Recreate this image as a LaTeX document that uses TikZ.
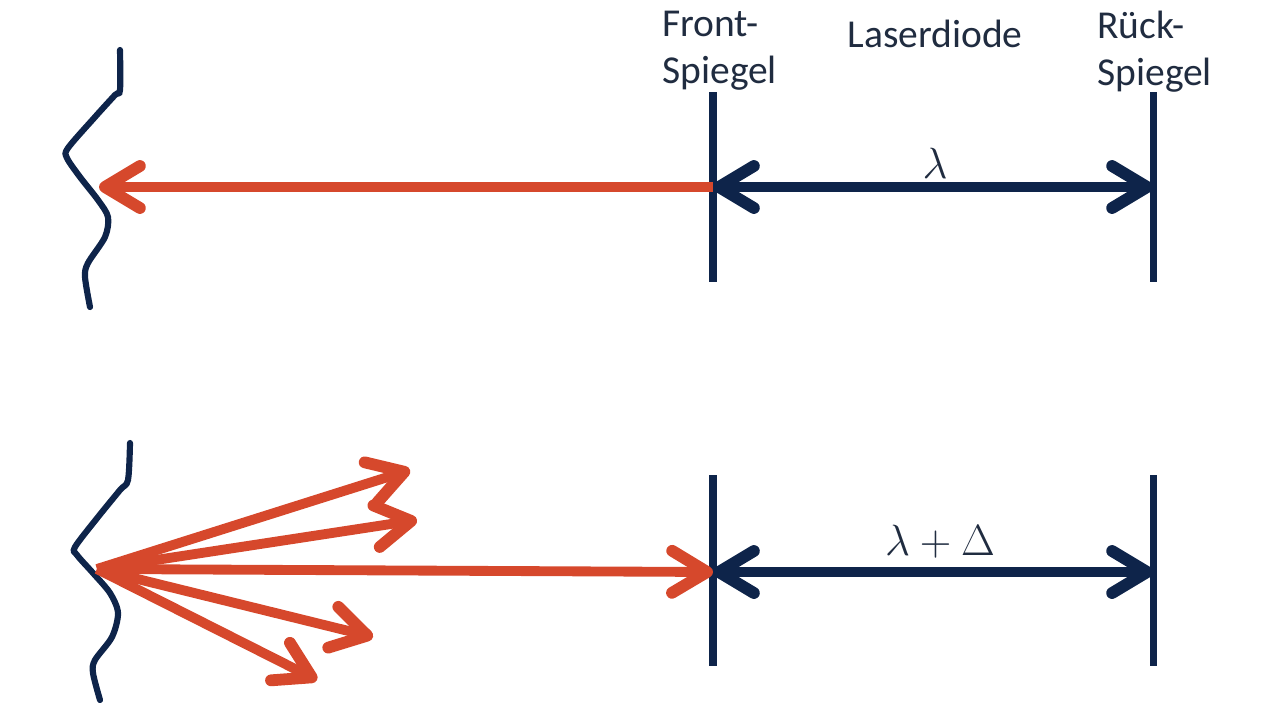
\documentclass[tikz,border=0pt]{standalone}
\usepackage{fontspec}
\setmainfont{Carlito}
\usetikzlibrary{arrows.meta}
\definecolor{laserred}{RGB}{214,72,44}
\definecolor{mirrornavy}{RGB}{14,36,74}
\definecolor{labelgray}{RGB}{32,44,64}
\newcommand{\bigmath}[1]{\scalebox{1.2}{$#1$}}

\begin{document}
\begin{tikzpicture}[x=0.02cm,y=-0.02cm,
  >={Straight Barb[length=7mm,width=8.4mm,line cap=round,line join=round,line width=0pt 1.2]},
  mirror/.style={draw=mirrornavy,line width=4pt},
  wave/.style={draw=mirrornavy,line width=3.5pt,line cap=round},
  redray/.style={draw=laserred,line width=5.6pt,->},
  navyray/.style={draw=mirrornavy,line width=5.6pt,<->},
  labeltext/.style={text=labelgray,inner sep=0pt,font=\fontsize{22.5}{26.7}\selectfont}]
  \useasboundingbox (0,0) rectangle (1280,721);

  % labels
  \node[labeltext,anchor=north west,align=left] (front) at (662,11) {Front-\\Spiegel};
  \node[labeltext,anchor=base] (diode) at (935,47) {Laserdiode};
  \node[labeltext,anchor=north west,align=left] (back) at (1097,11) {Rück-\\Spiegel};

  % upper cavity
  \coordinate (ftop1) at (713,92);  \coordinate (fbot1) at (713,282);
  \coordinate (rtop1) at (1153,92); \coordinate (rbot1) at (1153,282);
  \coordinate (f1) at (713,187); \coordinate (r1) at (1153,187);
  \coordinate (w1) at (99,187);
  \draw[mirror] (ftop1) -- (fbot1);
  \draw[mirror] (rtop1) -- (rbot1);
  \draw[navyray] (f1) -- (r1);
  \draw[redray] (f1) -- (w1);
  \node[labeltext,anchor=base] (lam1) at (935,178) {\bigmath{\lambda}};
  \draw[wave] plot[smooth,tension=0.5] coordinates {(120,50) (120,90) (115,95) (95,117) (68,148) (67,158) (80,177) (98,200) (108,217) (105,237) (88,263) (85,277) (90,307)};

  % lower cavity
  \coordinate (ftop2) at (713,475);  \coordinate (fbot2) at (713,666);
  \coordinate (rtop2) at (1153,475); \coordinate (rbot2) at (1153,666);
  \coordinate (f2) at (713,572); \coordinate (r2) at (1153,572);
  \coordinate (w2) at (97,569);
  \coordinate (s1) at (410,470); \coordinate (s2) at (417,520);
  \coordinate (s3) at (373,637); \coordinate (s4) at (317,680);
  \draw[mirror] (ftop2) -- (fbot2);
  \draw[mirror] (rtop2) -- (rbot2);
  \draw[navyray] (f2) -- (r2);
  \node[labeltext,anchor=base] (lam2) at (940,555) {\bigmath{\lambda+\Delta}};
  \draw[wave] plot[smooth,tension=0.5] coordinates {(130,443) (128,480) (120,490) (98,517) (75,547) (77,555) (93,573) (110,593) (118,613) (112,637) (95,660) (93,673) (100,700)};
  \draw[redray] (w2) -- (f2);
  \foreach \s in {s1,s2,s3,s4}
    \draw[redray] (w2) -- (\s);
\end{tikzpicture}
\end{document}
